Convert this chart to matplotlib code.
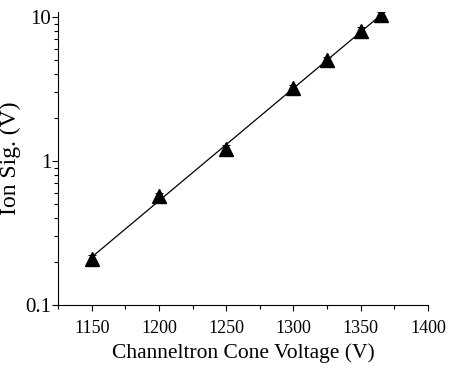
import numpy as np
import matplotlib
matplotlib.use('Agg')
import matplotlib.pyplot as plt
from matplotlib.ticker import FixedLocator, LogLocator, NullFormatter, FixedFormatter

voltage = [1150, 1200, 1250, 1300, 1325, 1350, 1365]
ion_sig = [0.21, 0.57, 1.22, 3.2, 5.0, 8.0, 10.3]
ion_err = [0.012, 0.03, 0.07, 0.17, 0.27, 0.45, 0.6]

plt.rcParams['font.family'] = ['Liberation Serif', 'DejaVu Serif']

fig = plt.figure(figsize=(4.5, 3.68), dpi=100)
ax = fig.add_axes([0.129, 0.171, 0.822, 0.796])

# exponential fit through the points
coef = np.polyfit(voltage, np.log10(ion_sig), 1)
xf = np.array([voltage[0], voltage[-1]])
ax.plot(xf, 10 ** np.polyval(coef, xf), color='black', lw=0.9)

ax.errorbar(voltage, ion_sig, yerr=ion_err, fmt='^', color='black', ms=10,
            elinewidth=0.7, capsize=3, capthick=0.7)

ax.set_yscale('log')
ax.set_xlim(1125, 1400)
ax.set_ylim(0.1, 10.8)
ax.set_xticks([1150, 1200, 1250, 1300, 1350, 1400])
ax.xaxis.set_minor_locator(FixedLocator([1125, 1175, 1225, 1275, 1325, 1375]))
ax.yaxis.set_major_locator(FixedLocator([0.1, 1, 10]))
ax.yaxis.set_major_formatter(FixedFormatter(['0.1', '1', '10']))
ax.yaxis.set_minor_locator(LogLocator(base=10, subs=np.arange(2, 10)))
ax.yaxis.set_minor_formatter(NullFormatter())

for s in ['top', 'right']:
    ax.spines[s].set_visible(False)
ax.tick_params(which='major', direction='out', length=4, width=0.8, labelsize=13)
ax.tick_params(axis='x', which='major', pad=7)
ax.tick_params(axis='y', which='major', labelsize=15, pad=1)
ax.tick_params(which='minor', direction='out', length=3, width=0.8)

ax.set_xlabel('Channeltron Cone Voltage (V)', fontsize=15.5, labelpad=4)
ax.set_ylabel('Ion Sig. (V)', fontsize=17)
ax.yaxis.set_label_coords(-0.1, 0.5)

fig.savefig('out.png', dpi=100)
